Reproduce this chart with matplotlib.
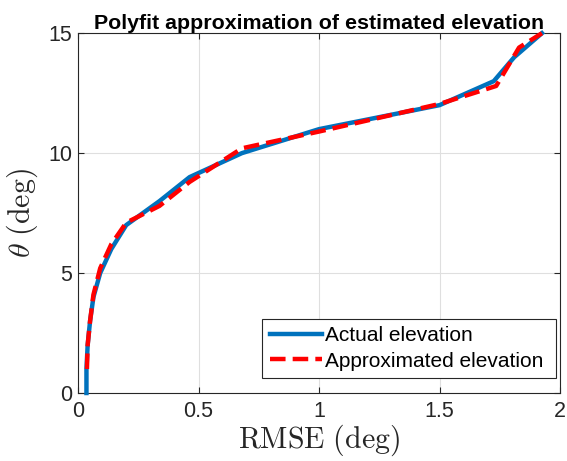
import matplotlib
matplotlib.use("Agg")
import matplotlib.pyplot as plt

# Actual elevation (theta) vs RMSE
actual_rmse = [0.035, 0.035, 0.040, 0.050, 0.064, 0.092, 0.138, 0.200, 0.338, 0.463, 0.680, 1.000, 1.500, 1.725, 1.810, 1.925]
actual_theta = [0, 1, 2, 3, 4, 5, 6, 7, 8, 9, 10, 11, 12, 13, 14, 15]

# Approximated elevation (polyfit)
approx_rmse = [0.037, 0.040, 0.050, 0.064, 0.092, 0.138, 0.200, 0.338, 0.463, 0.680, 1.000, 1.500, 1.735, 1.830, 1.925]
approx_theta = [1.0, 2.0, 3.0, 4.1, 5.2, 6.2, 7.1, 7.8, 8.8, 10.2, 10.9, 12.05, 12.8, 14.4, 15.0]

plt.rcParams['font.family'] = ['Liberation Sans', 'DejaVu Sans']
plt.rcParams['mathtext.fontset'] = 'cm'

fig = plt.figure(figsize=(5.67, 4.61), dpi=100)
ax = fig.add_axes([0.1376, 0.1475, 0.8501, 0.7805])

ax.plot(actual_rmse, actual_theta, color='#0072BD', lw=3.2, label='Actual elevation', clip_on=False, zorder=3)
ax.plot(approx_rmse, approx_theta, color='#FF0000', lw=3.2, ls=(0, (3.5, 1.6)), label='Approximated elevation', clip_on=False, zorder=4)

ax.set_xlim(0, 2)
ax.set_ylim(0, 15)
ax.set_xticks([0, 0.5, 1, 1.5, 2])
ax.set_xticklabels(['0', '0.5', '1', '1.5', '2'])
ax.set_yticks([0, 5, 10, 15])
ax.grid(True, color='#DFDFDF', lw=0.8)
ax.set_axisbelow(True)
ax.tick_params(direction='in', top=True, right=True, labelsize=15.5, colors='#262626', length=4)
ax.tick_params(axis='x', pad=6)
ax.tick_params(axis='y', pad=4)
for s in ax.spines.values():
    s.set_color('#262626')
    s.set_linewidth(0.8)

ax.set_xlabel(r'$\mathrm{RMSE\ (deg)}$', fontsize=21.5, color='#262626', labelpad=0)
ax.set_ylabel(r'$\theta\ \mathrm{(deg)}$', fontsize=21.5, color='#262626', labelpad=6)
ax.set_title('Polyfit approximation of estimated elevation', fontsize=15.4, fontweight='bold', pad=3)

handles, labels = ax.get_legend_handles_labels()
leg = ax.legend(handles, [labels[0], labels[1] + ' '], loc='lower right', fontsize=15,
                handlelength=2.5, handletextpad=0.15,
                borderpad=0.35, labelspacing=0.3, fancybox=False, framealpha=1,
                edgecolor='#262626', bbox_to_anchor=(0.992, 0.042), borderaxespad=0)
leg.get_frame().set_linewidth(0.8)

fig.savefig('out.png', dpi=100)
